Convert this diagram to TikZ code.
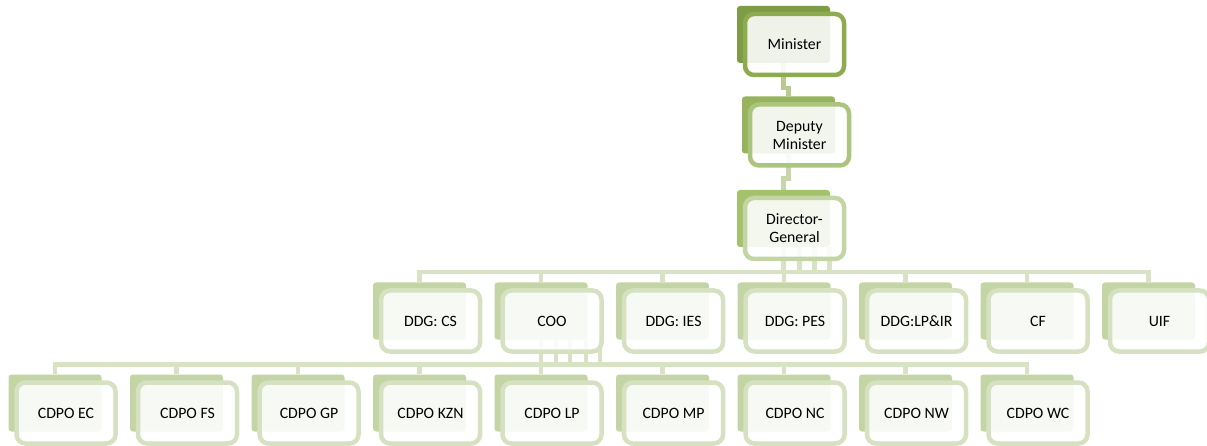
\documentclass[tikz,border=0pt]{standalone}
\usepackage{fontspec}
\setmainfont{Carlito}
\usetikzlibrary{positioning,backgrounds}

\definecolor{backA}{HTML}{7E9B46}
\definecolor{frameA}{HTML}{8EAB50}
\definecolor{backB}{HTML}{97B35C}
\definecolor{frameB}{HTML}{ABC47E}
\definecolor{backC}{HTML}{A4C16B}
\definecolor{frameC}{HTML}{C4D5A5}
\definecolor{backD}{HTML}{C3D5A5}
\definecolor{frameD}{HTML}{D5E1C1}
\definecolor{linkA}{HTML}{B7CB90}
\definecolor{linkB}{HTML}{C7D7AA}
\definecolor{linkC}{HTML}{D8E3C6}

\begin{document}
\begin{tikzpicture}[x=1pt, y=-1pt,
  backbox/.style={fill=#1, rounded corners=3pt, minimum width=93pt,
    minimum height=57pt, inner sep=0pt},
  frontbox/.style={draw=#1, line width=4.5pt, fill=white, fill opacity=0.88,
    text opacity=1, rounded corners=9pt, minimum width=99pt,
    minimum height=61pt, inner sep=0pt, align=center,
    font=\fontsize{15.8}{18}\selectfont},
  link/.style={draw=#1, line width=4.5pt}]
  \useasboundingbox (0,0) rectangle (1207,446);

  % top of the chart
  \node[backbox=backA] (minb) at (783.5,34.5) {};
  \node[frontbox=frameA] (minf) at ([xshift=11pt,yshift=-10pt]minb.center) {Minister};
  \node[backbox=backB] (depb) at (788.5,125) {};
  \node[frontbox=frameB] (depf) at ([xshift=11pt,yshift=-10pt]depb.center) {Deputy\\Minister};
  \node[backbox=backC] (dgb) at (783.5,218.5) {};
  \node[frontbox=frameC] (dgf) at ([xshift=11pt,yshift=-10pt]dgb.center) {Director-\\General};

  % second row
  \foreach \name [count=\i from 0] in {DDG: CS, COO, DDG: IES, DDG: PES, DDG:LP\&IR, CF, UIF} {
    \node[backbox=backD] (l2b-\i) at (419.5+121.5*\i,311) {};
    \node[frontbox=frameD] (l2f-\i) at ([xshift=11pt,yshift=-10pt]l2b-\i.center) {\name};
  }

  % third row
  \foreach \name [count=\i from 0] in {CDPO EC, CDPO FS, CDPO GP, CDPO KZN, CDPO LP, CDPO MP, CDPO NC, CDPO NW, CDPO WC} {
    \node[backbox=backD] (l3b-\i) at (55+121.5*\i,403) {};
    \node[frontbox=frameD] (l3f-\i) at ([xshift=11pt,yshift=-10pt]l3b-\i.center) {\name};
  }

  \begin{scope}[on background layer]
    \draw[link=linkA] (minb.south) -- ++(0,25) -| (depb.north);
    \draw[link=linkB] (depb.south) -- ++(0,25) -| (dgb.north);
    \foreach \i in {0,...,6}
      \draw[link=linkC] (dgb.south) -- ++(0,25) -| (l2b-\i.north);
    \foreach \dx in {16,31,46}
      \draw[link=linkC] ([xshift=\dx pt]dgb.south) -- ++(0,25);
    \foreach \i in {0,...,8}
      \draw[link=linkC] (l2b-1.south) -- ++(0,25) -| (l3b-\i.north);
    \foreach \dx in {15,29,45,59}
      \draw[link=linkC] ([xshift=\dx pt]l2b-1.south) -- ++(0,25);
  \end{scope}
\end{tikzpicture}
\end{document}
